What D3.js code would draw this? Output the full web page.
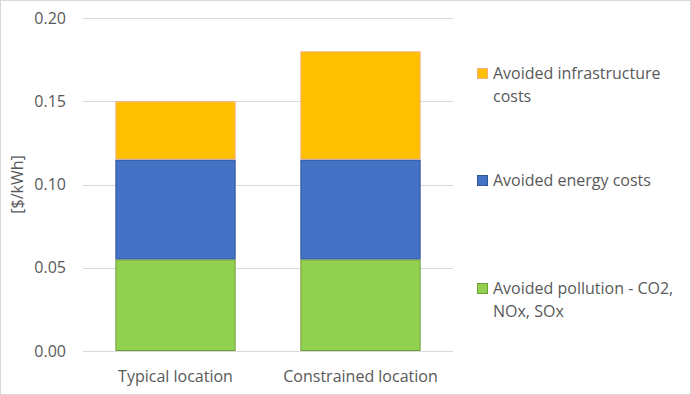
<!DOCTYPE html>
<html>
<head>
<meta charset="utf-8">
<script src="https://cdn.jsdelivr.net/npm/d3@7"></script>
<style>
  body { margin: 0; background: #fff; }
  text { font-family: "Open Sans", "Noto Sans", sans-serif; fill: #595959; }
</style>
</head>
<body>
<div id="chart"></div>
<script>
// Chart data
var categories = ["Typical location", "Constrained location"];
var pollution = [0.055, 0.055];
var energy = [0.06, 0.06];
var infrastructure = [0.035, 0.065];
var yTicks = [0, 0.05, 0.10, 0.15, 0.20];

var colors = ["#92D050", "#4472C4", "#FFC000"];
var strokes = ["#6f9e3a", "#2f5597", "#f4b183"];

var width = 691, height = 395;
var margin = {left: 83, right: 238, top: 18, bottom: 44};
var fs = 16;

var svg = d3.select("#chart").append("svg")
    .attr("width", width)
    .attr("height", height);

// outer border
svg.append("rect")
    .attr("x", 0.5).attr("y", 0.5)
    .attr("width", width - 1).attr("height", height - 1)
    .attr("fill", "#fff").attr("stroke", "#d9d9d9");

var x = d3.scaleBand()
    .domain(categories)
    .range([margin.left, width - margin.right])
    .paddingInner(0.35)
    .paddingOuter(0.175);

var y = d3.scaleLinear()
    .domain([0, 0.2])
    .range([height - margin.bottom, margin.top]);

// gridlines
svg.append("g").selectAll("line")
    .data(yTicks)
    .enter().append("line")
    .attr("x1", margin.left).attr("x2", width - margin.right)
    .attr("y1", d => Math.round(y(d)) + 0.5).attr("y2", d => Math.round(y(d)) + 0.5)
    .attr("stroke", "#d9d9d9");

// y tick labels
svg.append("g").selectAll("text")
    .data(yTicks)
    .enter().append("text")
    .attr("x", 66)
    .attr("y", d => y(d) + 5.5)
    .attr("text-anchor", "end")
    .attr("font-size", fs)
    .text(d => d3.format(".2f")(d));

// y axis title
svg.append("text")
    .attr("transform", "translate(23," + y(0.1) + ") rotate(-90)")
    .attr("text-anchor", "middle")
    .attr("font-size", fs)
    .text("[$/kWh]");

// stack the series
var rows = categories.map(function(c, i) {
    return {cat: c, s0: pollution[i], s1: energy[i], s2: infrastructure[i]};
});
var stack = d3.stack().keys(["s0", "s1", "s2"])(rows);

svg.append("g").selectAll("g")
    .data(stack)
    .enter().append("g")
    .attr("fill", (d, i) => colors[i])
    .attr("stroke", (d, i) => strokes[i])
    .selectAll("rect")
    .data(d => d)
    .enter().append("rect")
    .attr("x", d => x(d.data.cat) + 0.5)
    .attr("y", d => y(d[1]) + 0.5)
    .attr("width", x.bandwidth() - 1)
    .attr("height", d => y(d[0]) - y(d[1]) - 1);

// category labels
svg.append("g").selectAll("text")
    .data(categories)
    .enter().append("text")
    .attr("x", d => x(d) + x.bandwidth() / 2)
    .attr("y", 382)
    .attr("text-anchor", "middle")
    .attr("font-size", fs)
    .text(d => d);

// legend
var legend = [
    {lines: ["Avoided infrastructure", "costs"], color: 2, top: 68},
    {lines: ["Avoided energy costs"], color: 1, top: 175},
    {lines: ["Avoided pollution - CO2,", "NOx, SOx"], color: 0, top: 283}
];
var lg = svg.append("g").selectAll("g")
    .data(legend)
    .enter().append("g");
lg.append("rect")
    .attr("x", 477.5).attr("y", d => d.top + 0.5)
    .attr("width", 10).attr("height", 10)
    .attr("fill", d => colors[d.color])
    .attr("stroke", d => strokes[d.color]);
lg.each(function(d) {
    var t = d3.select(this).append("text")
        .attr("x", 493)
        .attr("y", d.top + 11)
        .attr("font-size", fs);
    d.lines.forEach(function(l, i) {
        t.append("tspan").attr("x", 493).attr("dy", i ? 22.6 : 0).text(l);
    });
});
</script>
</body>
</html>
